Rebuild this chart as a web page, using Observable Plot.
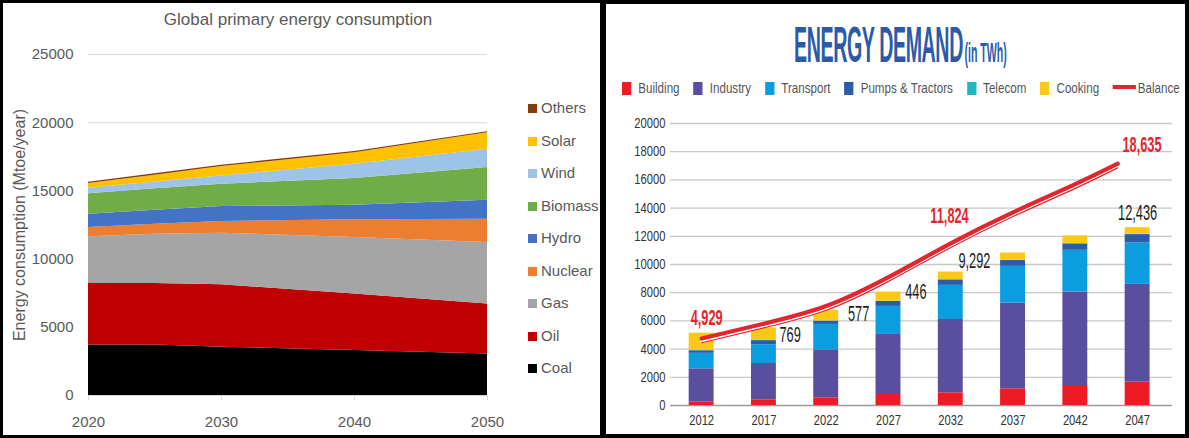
<!DOCTYPE html>
<html><head><meta charset="utf-8">
<script src="https://cdn.jsdelivr.net/npm/d3@7"></script>
<script src="https://cdn.jsdelivr.net/npm/@observablehq/plot@0.6"></script>
<style>
html,body{margin:0;padding:0}
body{width:1189px;height:438px;position:relative;background:#fff;overflow:hidden;font-family:"Liberation Sans",Arial,sans-serif}
.panel{position:absolute;box-sizing:border-box;border:3px solid #000;top:0;height:438px}
#left{left:0;width:603px}
#right{left:602px;width:587px;border-width:4px}
.abs{position:absolute}
#lchart{left:0;top:0}
#rchart{left:605px;top:0}
#ltitle{left:0;top:9px;width:596px;text-align:center;font-size:17px;line-height:22px;color:#595959}
.litem{position:absolute;left:528px;font-size:15px;line-height:18px;color:#595959;white-space:nowrap}
.litem i{display:inline-block;width:9px;height:9px;margin-right:4px;vertical-align:0px}
#rtitle{left:794px;top:20px;white-space:nowrap;color:#2b5ba8;font-weight:bold;line-height:50px;transform-origin:0 0}
#rtitle .big{font-size:50px;letter-spacing:-1px}
#rtitle .small{font-size:27px;margin-left:4px}
#rlegend{left:622px;top:79px;white-space:nowrap;font-size:15px;line-height:18px;color:#555;transform-origin:0 0}
#rlegend span.it{display:inline-block;margin-right:18px}
#rlegend i{display:inline-block;width:12px;height:13px;margin-right:9px;vertical-align:-2px}
#rlegend b{display:inline-block;width:30px;height:4px;margin-right:2px;vertical-align:4px;background:#e3262d}
</style></head><body>
<div id="left" class="panel"></div>
<div id="right" class="panel"></div>
<div id="lchart" class="abs"></div>
<div id="rchart" class="abs"></div>
<div id="ltitle" class="abs">Global primary energy consumption</div>
<div id="llegend"></div>
<div id="rtitle" class="abs"><span class="big">ENERGY DEMAND</span><span class="small">(in TWh)</span></div>
<div id="rlegend" class="abs"></div>
<script>
// ---------- Left chart data (Mtoe/year) ----------
const years = [2020, 2025, 2030, 2040, 2050];
const sources = ["Coal", "Oil", "Gas", "Nuclear", "Hydro", "Biomass", "Wind", "Solar", "Others"];
const coal    = [3700, 3700, 3540, 3290, 3050];
const oil     = [4520, 4520, 4580, 4150, 3660];
const gas     = [3410, 3610, 3780, 4150, 4510];
const nuclear = [690, 720, 860, 1290, 1710];
const hydro   = [970, 1030, 1090, 1070, 1390];
const biomass = [1510, 1570, 1640, 1950, 2390];
const wind    = [400, 500, 610, 1050, 1340];
const solar   = [340, 500, 680, 850, 1220];
const others  = [90, 100, 100, 80, 70];
const leftYTicks = [0, 5000, 10000, 15000, 20000, 25000];
const leftXTicks = [2020, 2030, 2040, 2050];
const sourceColors = ["#000000", "#c00000", "#a5a5a5", "#ed7d31", "#4472c4", "#70ad47", "#9dc3e6", "#ffc000", "#843c0c"];

// ---------- Right chart data (TWh) ----------
const demandYears = [2012, 2017, 2022, 2027, 2032, 2037, 2042, 2047];
const sectors = ["Building", "Industry", "Transport", "Pumps & Tractors", "Telecom", "Cooking"];
const building  = [240, 400, 545, 780, 900, 1180, 1420, 1655];
const industry  = [2360, 2580, 3405, 4260, 5200, 6085, 6630, 6935];
const transport = [1100, 1330, 1800, 1990, 2420, 2605, 2955, 2935];
const pumps     = [180, 290, 230, 350, 385, 410, 455, 595];
const telecom   = [20, 20, 20, 20, 20, 20, 20, 20];
const cooking   = [1230, 870, 745, 650, 540, 515, 545, 475];
const balanceYears = [2012, 2017, 2022, 2027, 2032, 2037, 2042, 2045.4];
const balance      = [4750, 5800, 7050, 9100, 11500, 13700, 15700, 17150];
const noteTexts  = ["4,929", "769", "577", "446", "9,292", "11,824", "18,635", "12,436"];
const noteSeries = ["Balance", "Demand", "Demand", "Demand", "Demand", "Balance", "Balance", "Demand"];
const noteYears  = [2012.4, 2019.1, 2024.6, 2029.2, 2033.9, 2031.9, 2047.35, 2047.0];
const noteValues = [6180, 4970, 6460, 8020, 10220, 13420, 18460, 13630];
const rightYTicks = [0, 2000, 4000, 6000, 8000, 10000, 12000, 14000, 16000, 18000, 20000];
const sectorColors = ["#ed1c24", "#5a4e9f", "#0b9de0", "#2a5ca8", "#21b6c4", "#fcc917"];
const balanceColor = "#e3262d";

// ---------- Left chart ----------
const seriesL = [coal, oil, gas, nuclear, hydro, biomass, wind, solar, others];
const rowsL = [];
years.forEach((yr, i) => sources.forEach((s, j) => rowsL.push({year: yr, source: s, value: seriesL[j][i]})));

const left = Plot.plot({
  width: 600, height: 438,
  marginLeft: 88, marginRight: 113, marginTop: 54, marginBottom: 43,
  x: {domain: [2020, 2050]},
  y: {domain: [0, 25000]},
  color: {domain: sources, range: sourceColors},
  style: {fontFamily: "'Liberation Sans', Arial, sans-serif", fontSize: "15px", color: "#595959", background: "transparent"},
  marks: [
    Plot.gridY(leftYTicks.slice(1), {stroke: "#d9d9d9", strokeOpacity: 1}),
    Plot.areaY(rowsL, {x: "year", y: "value", fill: "source", curve: "linear"}),
    Plot.ruleY([0], {stroke: "#d9d9d9", strokeWidth: 1.2}),
    Plot.axisY(leftYTicks, {tickSize: 0, tickPadding: 15, tickFormat: d => String(d), label: null, fill: "#595959"}),
    Plot.axisX(leftXTicks, {tickSize: 5, tickPadding: 16, tickFormat: d => String(d), label: null, stroke: "#d9d9d9", fill: "#595959"}),
    Plot.text(["Energy consumption (Mtoe/year)"], {frameAnchor: "left", textAnchor: "middle", rotate: -90, dx: -69, fontSize: 16, fill: "#595959"})
  ]
});
document.getElementById("lchart").appendChild(left);

// left legend (top: Others ... bottom: Coal)
const llegend = document.getElementById("llegend");
sources.slice().reverse().forEach((s, k) => {
  const idx = sources.indexOf(s);
  const d = document.createElement("div");
  d.className = "litem";
  d.style.top = (108 + k * 32.5 - 9) + "px";
  d.innerHTML = `<i style="background:${sourceColors[idx]}"></i>${s}`;
  llegend.appendChild(d);
});

// ---------- Right chart ----------
const seriesR = [building, industry, transport, pumps, telecom, cooking];
const rowsR = [];
demandYears.forEach((yr, i) => sectors.forEach((s, j) => rowsR.push({year: yr, sector: s, value: seriesR[j][i]})));
const bal = balanceYears.map((yr, i) => ({year: yr, value: balance[i]}));
const notes = noteTexts.map((t, i) => ({label: t, series: noteSeries[i], year: noteYears[i], value: noteValues[i]}));
const condFont = "'Liberation Sans', Arial, sans-serif";

const right = Plot.plot({
  width: 584, height: 438,
  marginLeft: 65, marginRight: 17, marginTop: 123, marginBottom: 33,
  x: {domain: [2009.5, 2049.8]},
  y: {domain: [0, 20000]},
  color: {domain: sectors, range: sectorColors},
  style: {fontFamily: condFont, fontSize: "14px", color: "#333", background: "transparent"},
  marks: [
    Plot.gridY(rightYTicks.slice(1), {stroke: "#c8c8c8", strokeOpacity: 1, strokeWidth: 1.3}),
    Plot.ruleY([0], {stroke: "#9a9a9a", strokeWidth: 1.6}),
    Plot.rectY(rowsR, {x1: d => d.year - 1, x2: d => d.year + 1, y: "value", fill: "sector"}),
    Plot.line(bal, {x: "year", y: "value", curve: "natural", stroke: "#fff", strokeWidth: 3, dy: 3}),
    Plot.line(bal, {x: "year", y: "value", curve: "natural", stroke: balanceColor, strokeWidth: 1.2, dy: 4.2}),
    Plot.line(bal, {x: "year", y: "value", curve: "natural", stroke: balanceColor, strokeWidth: 4.2}),
    Plot.axisY(rightYTicks, {tickSize: 0, tickPadding: 5, tickFormat: d => String(d), label: null, fill: "#333"}),
    Plot.axisX(demandYears, {tickSize: 0, tickPadding: 10, tickFormat: d => String(d), label: null, fill: "#333"}),
    Plot.text(notes.filter(d => d.series === "Balance"), {x: "year", y: "value", text: "label", fill: balanceColor, fontSize: 22, fontWeight: "bold"}),
    Plot.text(notes.filter(d => d.series !== "Balance"), {x: "year", y: "value", text: "label", fill: "#1c1c1c", fontSize: 22})
  ]
});
document.getElementById("rchart").appendChild(right);

// condense right chart text (narrow typeface look)
d3.select(right).selectAll("g[aria-label='y-axis tick label'] text, g[aria-label='x-axis tick label'] text").each(function() {
  const w = this.getComputedTextLength();
  this.setAttribute("textLength", w * 0.8);
  this.setAttribute("lengthAdjust", "spacingAndGlyphs");
});
d3.select(right).selectAll("g[aria-label='text'] text").each(function() {
  const w = this.getComputedTextLength();
  this.setAttribute("textLength", w * 0.58);
  this.setAttribute("lengthAdjust", "spacingAndGlyphs");
});

// right legend
const rlegend = document.getElementById("rlegend");
let html = "";
sectors.forEach((s, j) => { html += `<span class="it"><i style="background:${sectorColors[j]}"></i>${s}</span>`; });
html += `<span class="it" style="margin-right:0"><b></b>Balance</span>`;
rlegend.innerHTML = html;
rlegend.style.transform = `scaleX(${558 / rlegend.scrollWidth})`;

// right title
const rtitle = document.getElementById("rtitle");
rtitle.style.transform = `scaleX(${213 / rtitle.scrollWidth})`;
</script>
</body></html>
